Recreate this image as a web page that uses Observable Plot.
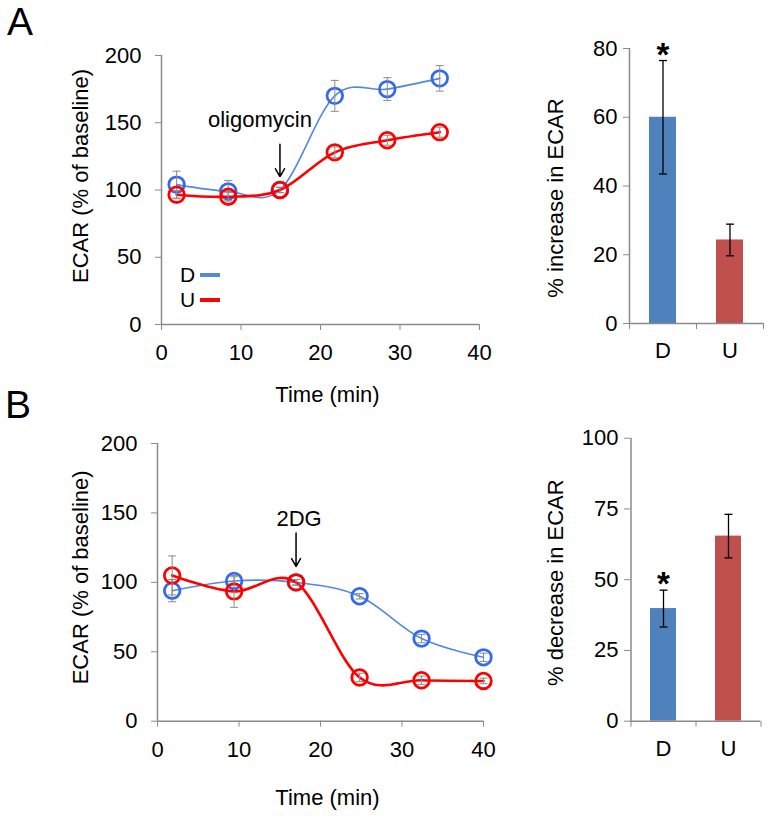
<!DOCTYPE html>
<html><head><meta charset="utf-8">
<script src="https://cdn.jsdelivr.net/npm/d3@7"></script>
<script src="https://cdn.jsdelivr.net/npm/@observablehq/plot@0.6"></script>
<style>
body{margin:0;background:#fff;font-family:"Liberation Sans",Arial,sans-serif;}
#root{position:relative;width:771px;height:818px;overflow:hidden;background:#fff;}
.panel{position:absolute;}
.letter{position:absolute;font-size:39px;line-height:1;color:#000;}
.leg{position:absolute;font-size:21px;line-height:22px;height:22px;display:flex;align-items:center;color:#000;}
.leg .sw{display:inline-block;width:20px;height:4px;margin-left:5px;}
</style></head><body><div id="root"></div>
<script>
// ---------- data ----------
const timesA = [1.9, 8.4, 14.9, 21.8, 28.4, 35];
const ecarA_D = [104, 99, 100, 170, 175, 183];
const errA_D = [10, 8, 2, 11.5, 8.5, 9.5];
const ecarA_U = [96.5, 95, 100, 128, 137, 143];
const errA_U = [3, 3, 2, 4, 3.7, 3.7];

const timesB = [1.8, 9.4, 17, 24.8, 32.4, 40];
const ecarB_D = [94, 101, 100, 90, 59.5, 46];
const errB_D = [8, 3, 2, 2, 3, 3];
const ecarB_U = [105, 93.5, 100, 31.5, 29.5, 29];
const errB_U = [14, 11.5, 2, 3, 3, 2];

const annA = [{label: "oligomycin", x: 14.9, yText: 147, yTop: 134, yTip: 110}];
const annB = [{label: "2DG", x: 17, yText: 140.5, yTop: 135.5, yTip: 111.5}];

const groups = ["D", "U"];
const increaseA = [60, 24.3];
const increaseErrA = [16.5, 4.6];
const decreaseB = [39.8, 65.4];
const decreaseErrB = [6.5, 7.7];
const significant = [true, false];

const timeTicks = [0, 10, 20, 30, 40];
const ecarTicks = [0, 50, 100, 150, 200];
const incTicks = [0, 20, 40, 60, 80];
const decTicks = [0, 25, 50, 75, 100];

// ---------- styles ----------
const BLUE_LINE = "#5289dc";
const BLUE_MARK = "#3469ee";
const RED = "#ff0000";
const GRID = "#8a8a8a";
const ERR = "#8a8a8a";
const BAR_COLORS = ["#4f81bd", "#c0504d"];
const FONT = "'Liberation Sans', Arial, sans-serif";

const capSymbol = {
  draw(ctx, size) {
    const r = Math.sqrt(size / Math.PI);
    ctx.moveTo(-r, 0);
    ctx.lineTo(r, 0);
  }
};

const root = document.getElementById("root");
function place(el, left, top) {
  const d = document.createElement("div");
  d.className = "panel";
  d.style.left = left + "px";
  d.style.top = top + "px";
  d.appendChild(el);
  root.appendChild(d);
}

function seriesMarks(times, vals, errs, lineColor, markColor, lineWidth) {
  const rows = times.map((t, i) => ({t, v: vals[i], e: errs[i]}));
  return [
    Plot.line(rows, {x: "t", y: "v", stroke: lineColor, strokeWidth: lineWidth, curve: "cardinal"}),
    Plot.dot(rows, {x: "t", y: "v", r: 7.8, stroke: markColor, strokeWidth: 2.8, fill: "none"}),
    Plot.ruleX(rows, {x: "t", y1: r => r.v - r.e, y2: r => r.v + r.e, stroke: ERR, strokeWidth: 1}),
    Plot.dot(rows, {x: "t", y: r => r.v + r.e, symbol: capSymbol, r: 4, stroke: ERR, strokeWidth: 1, fill: "none"}),
    Plot.dot(rows, {x: "t", y: r => r.v - r.e, symbol: capSymbol, r: 4, stroke: ERR, strokeWidth: 1, fill: "none"})
  ];
}

function lineChart(o) {
  return Plot.plot({
    width: o.width, height: o.height,
    marginTop: o.mTop, marginBottom: o.height - o.axisY0, marginLeft: o.mLeft, marginRight: o.width - o.axisX40,
    style: {fontFamily: FONT, fontSize: "22px", background: "transparent", overflow: "visible", color: "black"},
    x: {domain: [0, 40], axis: null},
    y: {domain: [0, 200], axis: null},
    marks: [
      Plot.ruleY([0], {stroke: GRID, strokeWidth: 1.5}),
      Plot.ruleX([0], {stroke: GRID, strokeWidth: 1.5}),
      Plot.axisX(timeTicks, {tickSize: 6, tickPadding: 14, stroke: GRID, fill: "black", fontSize: 22}),
      Plot.axisY(ecarTicks, {tickSize: 6, tickPadding: 14, stroke: GRID, fill: "black", fontSize: 22, label: null}),
      ...seriesMarks(o.times, o.d, o.ed, BLUE_LINE, BLUE_MARK, 1.6),
      ...seriesMarks(o.times, o.u, o.eu, RED, RED, 2.6),
      Plot.arrow(o.ann, {x1: "x", x2: "x", y1: "yTop", y2: "yTip", stroke: "black", strokeWidth: 1.5, headLength: 9}),
      Plot.text(o.ann, {x: "x", y: "yText", text: "label", dx: o.annDx, lineAnchor: "bottom", fontSize: 22, fill: "black"}),
      Plot.text(["Time (min)"], {text: d => d, frameAnchor: "bottom", textAnchor: "middle", dx: o.xLabelDx, dy: o.xLabelDy, lineAnchor: "middle", fontSize: 22, fill: "black"}),
      Plot.text(["ECAR (% of baseline)"], {text: d => d, frameAnchor: "left", textAnchor: "middle", rotate: -90, dx: o.yLabelDx, dy: o.yLabelDy, lineAnchor: "middle", fontSize: 22, fill: "black"})
    ]
  });
}

function barChart(o) {
  const rows = groups.map((c, i) => ({c, v: o.vals[i], e: o.errs[i], sig: significant[i]}));
  const step = o.step;
  return Plot.plot({
    width: o.width, height: o.height,
    marginTop: o.mTop, marginBottom: o.height - o.axisY0, marginLeft: o.mLeft, marginRight: o.mRight,
    style: {fontFamily: FONT, fontSize: "22px", background: "transparent", overflow: "visible", color: "black"},
    x: {domain: groups, paddingInner: 0.6, paddingOuter: 0.3, axis: null},
    y: {domain: o.domain, axis: null},
    color: {domain: groups, range: BAR_COLORS},
    marks: [
      Plot.barY(rows, {x: "c", y: "v", fill: "c"}),
      Plot.ruleY([0], {stroke: GRID, strokeWidth: 1.5}),
      Plot.ruleX([groups[0]], {x: d => d, dx: -step / 2, stroke: GRID, strokeWidth: 1.5}),
      Plot.axisY(o.ticks, {tickSize: 6, tickPadding: 6, stroke: GRID, fill: "black", fontSize: 22, label: null}),
      Plot.axisX(groups, {tickSize: 0, tickPadding: 19, fill: "black", fontSize: 22, label: null}),
      Plot.axisX(groups, {tickSize: 6, tickFormat: () => "", stroke: GRID, dx: step / 2, label: null}),
      Plot.axisX([groups[0]], {tickSize: 6, tickFormat: () => "", stroke: GRID, dx: -step / 2, label: null}),
      Plot.ruleX(rows, {x: "c", y1: r => r.v - r.e, y2: r => r.v + r.e, stroke: "black", strokeWidth: 1.3}),
      Plot.dot(rows, {x: "c", y: r => r.v + r.e, symbol: capSymbol, r: 4, stroke: "black", strokeWidth: 1.3, fill: "none"}),
      Plot.dot(rows, {x: "c", y: r => r.v - r.e, symbol: capSymbol, r: 4, stroke: "black", strokeWidth: 1.3, fill: "none"}),
      Plot.text(rows.filter(r => r.sig), {x: "c", y: r => r.v + r.e, text: () => "*", fontSize: 33, fontWeight: "bold", lineAnchor: "bottom", dy: 5, fill: "black"}),
      Plot.text([o.label], {text: d => d, frameAnchor: "left", textAnchor: "middle", rotate: -90, dx: o.yLabelDx, dy: o.yLabelDy, lineAnchor: "middle", fontSize: 22, fill: "black"})
    ]
  });
}

// Panel A
place(lineChart({
  width: 490, height: 420, mTop: 55, axisY0: 324, mLeft: 161, axisX40: 479,
  times: timesA, d: ecarA_D, ed: errA_D, u: ecarA_U, eu: errA_U, ann: annA, annDx: -20,
  xLabelDx: 7, xLabelDy: 70, yLabelDx: -81, yLabelDy: -14
}), 0, 0);

place(barChart({
  width: 251, height: 420, mTop: 48, axisY0: 323, mLeft: 109, mRight: 8, step: 67,
  vals: increaseA, errs: increaseErrA, domain: [0, 80], ticks: incTicks,
  label: "% increase in ECAR", yLabelDx: -74, yLabelDy: 12
}), 520, 0);

// Panel B
place(lineChart({
  width: 490, height: 398, mTop: 23, axisY0: 300.7, mLeft: 157, axisX40: 483,
  times: timesB, d: ecarB_D, ed: errB_D, u: ecarB_U, eu: errB_U, ann: annB, annDx: 3,
  xLabelDx: 7, xLabelDy: 77, yLabelDx: -77, yLabelDy: -5
}), 0, 420);

place(barChart({
  width: 251, height: 398, mTop: 17.7, axisY0: 300.7, mLeft: 110, mRight: 11, step: 65,
  vals: decreaseB, errs: decreaseErrB, domain: [0, 100], ticks: decTicks,
  label: "% decrease in ECAR", yLabelDx: -75, yLabelDy: 3
}), 520, 420);

// Panel letters
function addText(cls, txt, left, top) {
  const d = document.createElement("div");
  d.className = cls; d.textContent = txt;
  d.style.left = left + "px"; d.style.top = top + "px";
  root.appendChild(d);
}
addText("letter", "A", 7, 2);
addText("letter", "B", 5, 385);

// Legend (panel A)
const legendItems = [{key: "D", color: BLUE_LINE, top: 264}, {key: "U", color: RED, top: 289}];
for (const it of legendItems) {
  const d = document.createElement("div");
  d.className = "leg";
  d.style.left = "180px"; d.style.top = it.top + "px";
  d.innerHTML = `<span>${it.key}</span><span class="sw" style="background:${it.color}"></span>`;
  root.appendChild(d);
}
</script></body></html>
